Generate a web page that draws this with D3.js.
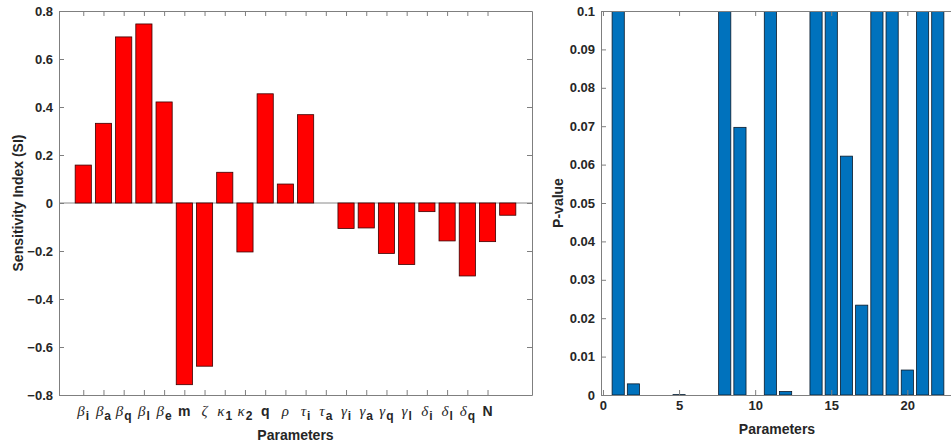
<!DOCTYPE html>
<html><head><meta charset="utf-8">
<script src="https://cdn.jsdelivr.net/npm/d3@7"></script>
<style>
body{margin:0;background:#fff;}
svg{display:block;}
text{font-family:"Liberation Sans",Arial,sans-serif;fill:#262626;}
</style></head>
<body>
<svg id="chart" width="951" height="446"></svg>
<script>
// ---------- data ----------
const paramBase = ["β","β","β","β","β","m","ζ","κ","κ","q","ρ","τ","τ","γ","γ","γ","γ","δ","δ","δ","N"];
const paramSub  = ["i","a","q","l","e","","","1","2","","","i","a","i","a","q","l","i","l","q",""];
const sensitivity = [0.158,0.332,0.692,0.746,0.421,-0.757,-0.680,0.128,-0.204,0.455,0.079,0.368,0,
                     -0.106,-0.104,-0.210,-0.256,-0.036,-0.158,-0.304,-0.161,-0.051];
const pValues = [0.35,0.0029,0,0,0.0001,0,0,0.42,0.0697,0,0.28,0.0009,0,
                 0.51,0.33,0.0622,0.0234,0.46,0.39,0.0065,0.25,0.31];
const siTicks = [-0.8,-0.6,-0.4,-0.2,0,0.2,0.4,0.6,0.8];
const pTicks = [0,0.01,0.02,0.03,0.04,0.05,0.06,0.07,0.08,0.09,0.1];
const pXTicks = [0,5,10,15,20];

const svg = d3.select("#chart");
const axisColor = "#7f7f7f";
const idx = sensitivity.map((d,i)=>i+1);

function styleAxis(g){
  g.selectAll("path.domain").attr("stroke",axisColor).attr("stroke-width",1);
  g.selectAll(".tick line").attr("stroke",axisColor);
  g.selectAll(".tick text").attr("font-size",13).attr("font-weight","bold")
    .attr("font-family","Liberation Sans, Arial, sans-serif").attr("fill","#262626");
}

// ---------- left chart ----------
const L = {x0:59, x1:532, y0:11, y1:395};
const xL = d3.scaleLinear().domain([-0.2,23.2]).range([L.x0,L.x1]);
const yL = d3.scaleLinear().domain([-0.8,0.8]).range([L.y1,L.y0]);
const bwL = (xL(1)-xL(0))*0.8;

const gl = svg.append("g");
gl.append("line").attr("x1",L.x0).attr("x2",L.x1).attr("y1",yL(0)).attr("y2",yL(0))
  .attr("stroke","#8a8a8a").attr("stroke-width",1);
gl.selectAll("rect.bar").data(sensitivity).join("rect").attr("class","bar")
  .attr("x",(d,i)=>xL(idx[i])-bwL/2).attr("width",bwL)
  .attr("y",d=>yL(Math.max(0,d))).attr("height",d=>Math.abs(yL(d)-yL(0)))
  .attr("fill","#ff0000").attr("stroke","#3a0000").attr("stroke-width",0.8)
  .style("display",d=>d===0?"none":null);

const labelIdx = paramBase.map((d,i)=>i+1);
gl.append("g").attr("transform",`translate(0,${L.y1})`)
  .call(d3.axisBottom(xL).tickValues(labelIdx).tickSize(-5).tickSizeOuter(0).tickFormat(""))
  .call(styleAxis);
gl.append("g").attr("transform",`translate(0,${L.y0})`)
  .call(d3.axisTop(xL).tickValues(labelIdx).tickSize(-5).tickSizeOuter(0).tickFormat(""))
  .call(styleAxis);
gl.append("g").attr("transform",`translate(${L.x0},0)`)
  .call(d3.axisLeft(yL).tickValues(siTicks).tickSize(-5).tickSizeOuter(0).tickPadding(6)
    .tickFormat(d=>d===0?"0":d3.format(".1f")(d)))
  .call(styleAxis);
gl.append("g").attr("transform",`translate(${L.x1},0)`)
  .call(d3.axisRight(yL).tickValues(siTicks).tickSize(-5).tickSizeOuter(0).tickFormat(""))
  .call(styleAxis);

// custom parameter labels
const lab = gl.append("g");
paramBase.forEach((b,i)=>{
  const greek = !["m","q","N"].includes(b);
  const t = lab.append("text").attr("x",xL(labelIdx[i])).attr("y",416).attr("text-anchor","middle");
  t.append("tspan").text(b)
    .attr("font-family",greek?"Liberation Serif, serif":"Liberation Sans, Arial, sans-serif")
    .attr("font-style",greek?"italic":"normal")
    .attr("font-weight",greek?"normal":"bold")
    .attr("font-size",greek?15:14);
  if(paramSub[i]){
    t.append("tspan").text(paramSub[i]).attr("dy",4).attr("dx",1)
      .attr("font-weight","bold").attr("font-size",12)
      .attr("font-family","Liberation Sans, Arial, sans-serif");
  }
});
gl.append("text").attr("x",(L.x0+L.x1)/2).attr("y",440).attr("text-anchor","middle")
  .attr("font-size",14).attr("font-weight","bold").text("Parameters");
gl.append("text").attr("transform",`translate(23,${(L.y0+L.y1)/2}) rotate(-90)`)
  .attr("text-anchor","middle").attr("font-size",14).attr("font-weight","bold")
  .text("Sensitivity Index (SI)");

// ---------- right chart ----------
const R = {x0:601, x1:953, y0:11, y1:395};
const xR = d3.scaleLinear().domain([-0.13,23]).range([R.x0,R.x1]);
const yR = d3.scaleLinear().domain([0,0.1]).range([R.y1,R.y0]);
const bwR = (xR(1)-xR(0))*0.8;
const gr = svg.append("g");
svg.append("defs").append("clipPath").attr("id","clipR")
  .append("rect").attr("x",R.x0).attr("y",R.y0).attr("width",R.x1-R.x0).attr("height",R.y1-R.y0);
gr.append("g").attr("clip-path","url(#clipR)")
  .selectAll("rect").data(pValues).join("rect")
  .attr("x",(d,i)=>xR(idx[i])-bwR/2).attr("width",bwR)
  .attr("y",d=>yR(d)).attr("height",d=>yR(0)-yR(d))
  .attr("fill","#0072BD").attr("stroke","#0a1a2a").attr("stroke-width",0.8)
  .style("display",d=>d===0?"none":null);

gr.append("g").attr("transform",`translate(0,${R.y1})`)
  .call(d3.axisBottom(xR).tickValues(pXTicks).tickSize(-5).tickSizeOuter(0).tickPadding(6))
  .call(styleAxis);
gr.append("g").attr("transform",`translate(0,${R.y0})`)
  .call(d3.axisTop(xR).tickValues(pXTicks).tickSize(-5).tickSizeOuter(0).tickFormat(""))
  .call(styleAxis);
gr.append("g").attr("transform",`translate(${R.x0},0)`)
  .call(d3.axisLeft(yR).tickValues(pTicks).tickSize(-5).tickSizeOuter(0).tickPadding(6)
    .tickFormat(d=>d===0?"0":d3.format(".2~f")(d)))
  .call(styleAxis);
gr.append("text").attr("x",(R.x0+R.x1)/2).attr("y",434).attr("text-anchor","middle")
  .attr("font-size",14).attr("font-weight","bold").text("Parameters");
gr.append("text").attr("transform",`translate(563,${(R.y0+R.y1)/2}) rotate(-90)`)
  .attr("text-anchor","middle").attr("font-size",14).attr("font-weight","bold")
  .text("P-value");
</script>
</body></html>
